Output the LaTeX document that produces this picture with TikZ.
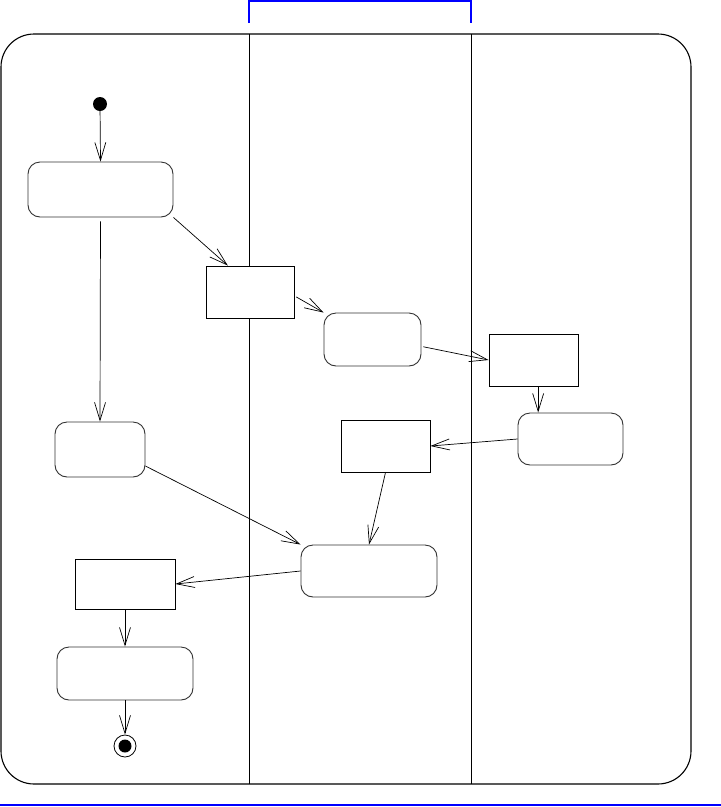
\documentclass[tikz,border=0pt]{standalone}
\usepackage{xcolor}
\usepackage{tikz}
\usetikzlibrary{arrows.meta, positioning}

\begin{document}
\begin{tikzpicture}[
  x=1pt, y=-1pt,
  activity/.style={
    rectangle,
    draw=black!80,
    fill=white,
    inner sep=0pt,
    rounded corners=12pt,
    line width=0.9pt
  },
  objbox/.style={
    rectangle,
    draw=black,
    fill=white,
    inner sep=0pt,
    line width=0.9pt
  },
  connection/.style={
    -{Straight Barb[length=18pt, width=11pt]},
    line width=0.7pt,
    draw=black
  }
]
\useasboundingbox (0,0) rectangle (721,807);

% Frame, swimlanes and page rules
\draw[line width=1.1pt, rounded corners=33pt] (1,34) rectangle (691,784);
\draw[line width=0.9pt] (249,34) -- (249,784);
\draw[line width=0.9pt] (471,34) -- (471,784);
\draw[blue, line width=1.2pt] (249,23) -- (249,1) -- (471,1) -- (471,23);
\draw[blue, line width=2pt] (0,805) -- (721,805);

% Start and end
\node[circle, fill=black, inner sep=0pt, minimum size=14pt] (start) at (100,104) {};
\node[circle, draw=black, line width=0.8pt, inner sep=0pt, minimum size=22pt] (stop) at (125,746) {};
\node[circle, fill=black, inner sep=0pt, minimum size=13pt] at (stop) {};

% Activities
\node[activity, minimum width=145pt, minimum height=55pt] (a1) at (100.5,189.5) {};
\node[activity, minimum width=97pt, minimum height=53pt] (a2) at (372.5,339.5) {};
\node[activity, minimum width=105pt, minimum height=52pt] (a3) at (570.5,439) {};
\node[activity, minimum width=90pt, minimum height=55pt] (a4) at (100,449.5) {};
\node[activity, minimum width=136pt, minimum height=52pt] (a5) at (369,571) {};
\node[activity, minimum width=136pt, minimum height=53pt] (a6) at (125,673.5) {};

% Object boxes
\node[objbox, minimum width=88pt, minimum height=52pt] (o1) at (250,292) {};
\node[objbox, minimum width=89pt, minimum height=52pt] (o2) at (533.5,360) {};
\node[objbox, minimum width=89pt, minimum height=52pt] (o3) at (385.5,446) {};
\node[objbox, minimum width=100pt, minimum height=50pt] (o4) at (125,584) {};

% Flows
\draw[connection] (start) -- (a1.north);
\draw[connection, shorten <=4pt] (a1.south) -- (a4.north);
\draw[connection] (a1.south east) -- (o1.130);
\draw[connection, shorten <=2pt] (o1.-5) -- (a2.north west);
\draw[connection, shorten <=2pt] (a2.-8) -- (o2.west);
\draw[connection] (o2.-80) -- (o2.-80 |- a3.north);
\draw[connection] (a3.west) -- (o3.east);
\draw[connection] (o3.south) -- (a5.north);
\draw[connection] (a4.-20) -- (a5.north west);
\draw[connection] (a5.west) -- (o4.east);
\draw[connection] (o4.south) -- (a6.north);
\draw[connection] (a6.south) -- (stop.north);

\end{tikzpicture}
\end{document}
